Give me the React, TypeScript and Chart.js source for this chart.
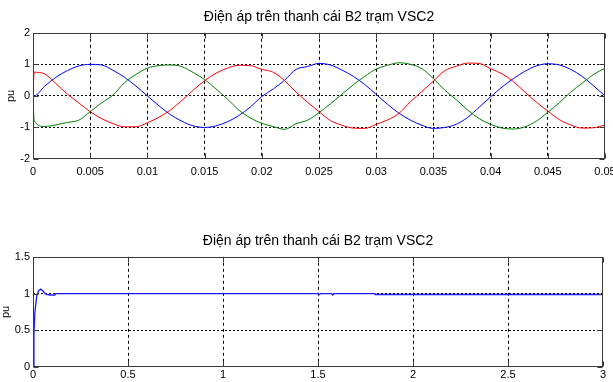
import React, { useEffect, useRef } from 'react';
import { Chart, registerables } from 'chart.js';

Chart.register(...registerables);

const TITLE = 'Điện áp trên thanh cái B2 trạm VSC2';
const Y_LABEL = 'pu';

// ---- top subplot: three-phase voltage, 0..0.05 s ----
const TOP_T = [
  0, 0.0001, 0.001, 0.002, 0.003, 0.004, 0.005, 0.006, 0.007, 0.008, 0.009,
  0.01, 0.011, 0.012, 0.013, 0.014, 0.015, 0.016, 0.017, 0.018, 0.019,
  0.02, 0.021, 0.022, 0.023, 0.024, 0.025, 0.026, 0.027, 0.028, 0.029,
  0.03, 0.031, 0.032, 0.033, 0.034, 0.035, 0.036, 0.037, 0.038, 0.039,
  0.04, 0.041, 0.042, 0.043, 0.044, 0.045, 0.046, 0.047, 0.048, 0.049, 0.05,
];
const TOP_BLUE = [
  0, 0, 0.3, 0.59, 0.8, 0.95, 1.0, 0.98, 0.81, 0.59, 0.31,
  0.0, -0.31, -0.59, -0.8, -0.95, -1.0, -0.95, -0.82, -0.62, -0.35,
  -0.02, 0.22, 0.5, 0.84, 0.93, 1.03, 0.98, 0.82, 0.62, 0.36,
  0.05, -0.27, -0.55, -0.77, -0.93, -1.03, -1.0, -0.9, -0.68, -0.36,
  -0.03, 0.28, 0.55, 0.78, 0.95, 1.02, 0.98, 0.84, 0.62, 0.32, 0.0,
];
const TOP_RED = [
  0, 0.75, 0.7, 0.39, 0.06, -0.22, -0.5, -0.72, -0.88, -0.98, -0.98,
  -0.85, -0.68, -0.45, -0.15, 0.18, 0.48, 0.72, 0.88, 0.97, 0.96,
  0.84, 0.75, 0.48, 0.12, -0.2, -0.5, -0.78, -0.93, -1.02, -1.03,
  -0.9, -0.76, -0.55, -0.18, 0.14, 0.47, 0.8, 0.94, 1.04, 1.03,
  0.86, 0.7, 0.45, 0.12, -0.2, -0.48, -0.75, -0.92, -1.02, -1.01, -0.92,
];
const TOP_GREEN = [
  0, -0.78, -0.97, -0.92, -0.84, -0.77, -0.5, -0.22, 0.03, 0.42, 0.68,
  0.88, 0.96, 0.98, 0.93, 0.74, 0.52, 0.22, -0.1, -0.45, -0.7,
  -0.87, -0.97, -1.06, -0.88, -0.77, -0.53, -0.25, 0.05, 0.35, 0.62,
  0.85, 0.97, 1.05, 1.0, 0.86, 0.55, 0.18, -0.12, -0.45, -0.72,
  -0.9, -1.02, -1.05, -0.98, -0.8, -0.52, -0.22, 0.12, 0.4, 0.68, 0.88,
];
const TOP_X_TICKS = [0, 0.005, 0.01, 0.015, 0.02, 0.025, 0.03, 0.035, 0.04, 0.045, 0.05];
const TOP_Y_TICKS = [-2, -1, 0, 1, 2];

// ---- bottom subplot: voltage magnitude, 0..3 s ----
const BOT_T = [
  0, 0.005, 0.01, 0.02, 0.03, 0.04, 0.05, 0.06, 0.07, 0.09, 0.115, 0.12,
  1.5, 1.505, 1.515, 1.57, 1.578, 1.585, 1.8, 1.801, 3,
];
const BOT_V = [
  0, 0.45, 0.75, 0.97, 1.04, 1.06, 1.04, 1.01, 0.99, 0.98, 0.98, 1.0,
  1.0, 0.99, 1.0, 1.0, 0.98, 1.0, 1.0, 0.987, 0.987,
];
const BOT_X_TICKS = [0, 0.5, 1, 1.5, 2, 2.5, 3];
const BOT_Y_TICKS = [0, 0.5, 1, 1.5];

const FONT = "'Liberation Sans', Arial, sans-serif";
const NARROW = "'Liberation Sans Narrow', 'Liberation Sans', Arial, sans-serif";

const framePlugin = {
  id: 'matlabFrame',
  afterDraw(chart: any) {
    const { ctx, chartArea: a, scales } = chart;
    const L = Math.round(a.left) + 0.5;
    const R = Math.round(a.right) - 0.5;
    const T = Math.round(a.top) + 0.5;
    const B = Math.round(a.bottom) - 0.5;
    ctx.save();
    ctx.setLineDash([]);
    ctx.lineWidth = 1;
    ctx.strokeStyle = '#3a3a3a';
    ctx.strokeRect(L, T, R - L, B - T);
    const len = 5;
    ctx.beginPath();
    scales.x.ticks.forEach((t: any) => {
      const px = Math.round(scales.x.getPixelForValue(t.value)) + 0.5;
      ctx.moveTo(px, B);
      ctx.lineTo(px, B - len);
      ctx.moveTo(px, T);
      ctx.lineTo(px, T + len);
    });
    scales.y.ticks.forEach((t: any) => {
      const py = Math.round(scales.y.getPixelForValue(t.value)) + 0.5;
      ctx.moveTo(L, py);
      ctx.lineTo(L + len, py);
      ctx.moveTo(R, py);
      ctx.lineTo(R - len, py);
    });
    ctx.stroke();
    ctx.restore();
  },
};

function gridColor(min: number, max: number) {
  return (c: any) =>
    c.tick && (c.tick.value === min || c.tick.value === max) ? 'rgba(0,0,0,0)' : '#000';
}

function makeConfig(opts: {
  datasets: any[];
  xMin: number; xMax: number; xTicks: number[];
  yMin: number; yMax: number; yTicks: number[];
  titlePad: { top: number; bottom: number };
  padRight: number;
  yWidth: number;
  xHeight: number;
  xLabelPad: number;
  yTitlePad: number;
}) {
  return {
    type: 'line',
    data: { datasets: opts.datasets },
    options: {
      animation: false,
      responsive: false,
      devicePixelRatio: 1,
      parsing: false,
      layout: { padding: { left: 0, right: opts.padRight, top: 0, bottom: 0 } },
      plugins: {
        legend: { display: false },
        tooltip: { enabled: false },
        title: {
          display: true,
          text: TITLE,
          color: '#000',
          fullSize: false,
          font: { family: FONT, size: 14, weight: 'normal' },
          padding: opts.titlePad,
        },
      },
      elements: { point: { radius: 0 } },
      scales: {
        x: {
          type: 'linear',
          min: opts.xMin,
          max: opts.xMax,
          afterBuildTicks: (s: any) => {
            s.ticks = opts.xTicks.map((v) => ({ value: v }));
          },
          afterFit: (s: any) => {
            s.height = opts.xHeight;
            s.paddingLeft = 0;
            s.paddingRight = 0;
          },
          ticks: {
            autoSkip: false,
            maxRotation: 0,
            minRotation: 0,
            padding: opts.xLabelPad,
            color: '#000',
            font: { family: NARROW, size: 11 },
            callback: (v: any) => String(v),
          },
          grid: {
            color: gridColor(opts.xMin, opts.xMax),
            lineWidth: 1,
            drawTicks: false,
          },
          border: { display: false, dash: [3, 3] },
        },
        y: {
          type: 'linear',
          min: opts.yMin,
          max: opts.yMax,
          afterBuildTicks: (s: any) => {
            s.ticks = opts.yTicks.map((v) => ({ value: v }));
          },
          afterFit: (s: any) => {
            s.width = opts.yWidth;
            s.paddingTop = 0;
            s.paddingBottom = 0;
          },
          ticks: {
            autoSkip: false,
            padding: 3,
            color: '#000',
            font: { family: NARROW, size: 11 },
            callback: (v: any) => String(v),
          },
          grid: {
            color: gridColor(opts.yMin, opts.yMax),
            lineWidth: 1,
            drawTicks: false,
          },
          border: { display: false, dash: [2, 2] },
          title: {
            display: true,
            text: Y_LABEL,
            color: '#000',
            font: { family: FONT, size: 11, lineHeight: 1 },
            padding: { top: opts.yTitlePad, bottom: 0 },
          },
        },
      },
    },
    plugins: [framePlugin],
  } as any;
}

function toXY(xs: number[], ys: number[]) {
  return xs.map((x, i) => ({ x, y: ys[i] }));
}

export default function App() {
  const topRef = useRef<HTMLCanvasElement>(null);
  const botRef = useRef<HTMLCanvasElement>(null);

  useEffect(() => {
    const lineDs = (label: string, ys: number[], color: string) => ({
      label,
      data: toXY(TOP_T, ys),
      borderColor: color,
      borderWidth: 1,
      fill: false,
      cubicInterpolationMode: 'monotone',
      pointRadius: 0,
    });
    const top = new Chart(
      topRef.current as HTMLCanvasElement,
      makeConfig({
        datasets: [
          lineDs('Phase C', TOP_RED, '#ff0000'),
          lineDs('Phase B', TOP_GREEN, '#008000'),
          lineDs('Phase A', TOP_BLUE, '#0000ff'),
        ],
        xMin: 0, xMax: 0.05, xTicks: TOP_X_TICKS,
        yMin: -2, yMax: 2, yTicks: TOP_Y_TICKS,
        titlePad: { top: 8.6, bottom: 7.4 },
        padRight: 8,
        yWidth: 33,
        xHeight: 41,
        xLabelPad: 6,
        yTitlePad: 5,
      })
    );
    const bot = new Chart(
      botRef.current as HTMLCanvasElement,
      makeConfig({
        datasets: [
          {
            label: 'Vmag',
            data: toXY(BOT_T, BOT_V),
            borderColor: '#1a1aff',
            borderWidth: 1.3,
            fill: false,
            tension: 0,
            pointRadius: 0,
          },
        ],
        xMin: 0, xMax: 3, xTicks: BOT_X_TICKS,
        yMin: 0, yMax: 1.5, yTicks: BOT_Y_TICKS,
        titlePad: { top: 32.6, bottom: 7.4 },
        padRight: 10,
        yWidth: 33,
        xHeight: 15,
        xLabelPad: 1,
        yTitlePad: 0,
      })
    );
    return () => {
      top.destroy();
      bot.destroy();
    };
  }, []);

  return (
    <div
      style={{
        position: 'absolute',
        left: 0,
        top: 0,
        width: 613,
        height: 382,
        background: '#fff',
        overflow: 'hidden',
      }}
    >
      <canvas
        ref={topRef}
        width={613}
        height={200}
        style={{ position: 'absolute', left: 0, top: 0, width: 613, height: 200 }}
      />
      <canvas
        ref={botRef}
        width={613}
        height={182}
        style={{ position: 'absolute', left: 0, top: 200, width: 613, height: 182 }}
      />
    </div>
  );
}
